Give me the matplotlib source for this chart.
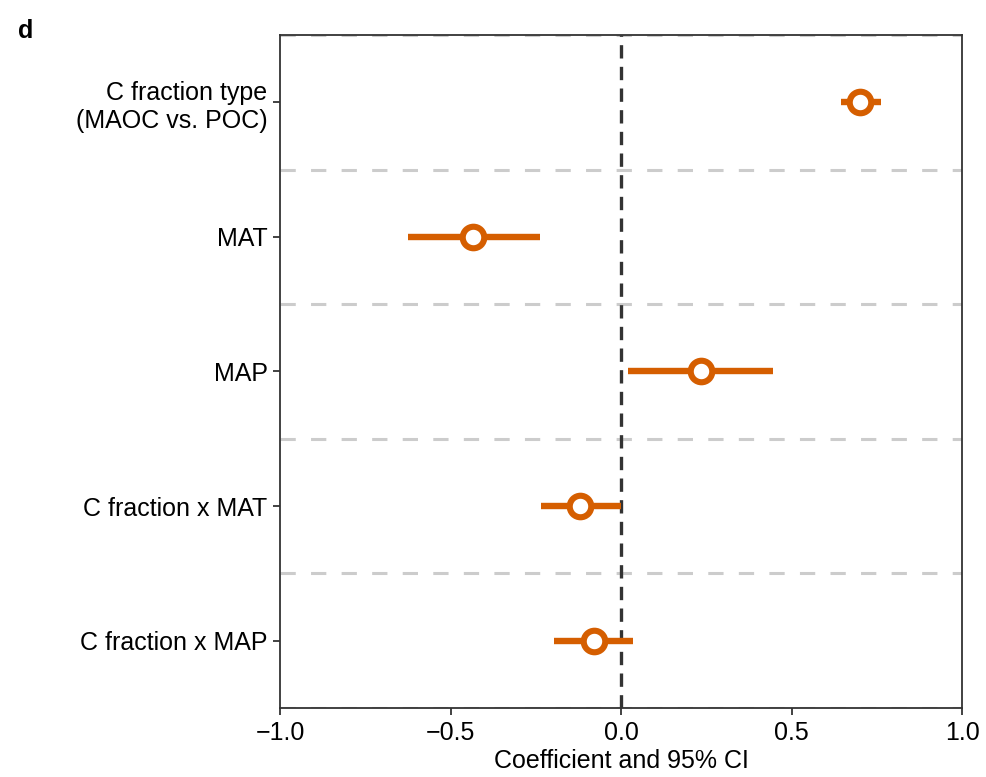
import numpy as np
import matplotlib.pyplot as plt

plt.rcParams['font.family'] = ['Liberation Sans', 'DejaVu Sans']

# predictors, top to bottom
labels = ['C fraction type\n(MAOC vs. POC)', 'MAT', 'MAP', 'C fraction x MAT', 'C fraction x MAP']
coef = [0.701, -0.434, 0.235, -0.120, -0.079]
ci_low = [0.645, -0.625, 0.021, -0.235, -0.196]
ci_high = [0.762, -0.238, 0.446, 0.0, 0.035]

orange = '#D55E00'
dark = '#333333'

fig = plt.figure(figsize=(9.86, 7.77), dpi=100)
ax = fig.add_axes([0.284, 0.0888, 0.6917, 0.8662])

n = len(labels)
ypos = np.arange(n)[::-1]

# separators between rows
for y in np.arange(-0.5, n, 1.0):
  ax.axhline(y, color='#cccccc', lw=2.2, ls=(0, (5, 5)), zorder=1)

ax.axvline(0, color=dark, lw=2.4, ls=(0, (4, 2.5)), zorder=2)

for i in range(n):
  ax.plot([ci_low[i], ci_high[i]], [ypos[i], ypos[i]], color=orange, lw=4.6, solid_capstyle='butt', zorder=3)
  ax.plot(coef[i], ypos[i], 'o', ms=15.5, mfc='white', mec=orange, mew=4.4, zorder=4)

ax.set_xlim(-1, 1)
ax.set_ylim(-0.5, n - 0.5)
ax.set_xticks([-1.0, -0.5, 0.0, 0.5, 1.0])
ax.set_xticklabels(['\u22121.0', '\u22120.5', '0.0', '0.5', '1.0'], fontsize=18)
ax.set_yticks(ypos)
ax.set_yticklabels(labels, fontsize=18)
ax.set_xlabel('Coefficient and 95% CI', fontsize=18, labelpad=3)

for s in ax.spines.values():
  s.set_color(dark)
  s.set_linewidth(1.3)
  s.set_zorder(5)
ax.tick_params(axis='both', direction='out', length=5, width=1.3, color=dark, pad=4)

fig.text(0.018, 0.975, 'd', fontsize=18, fontweight='bold', va='top')

plt.savefig('out.png', dpi=100)
